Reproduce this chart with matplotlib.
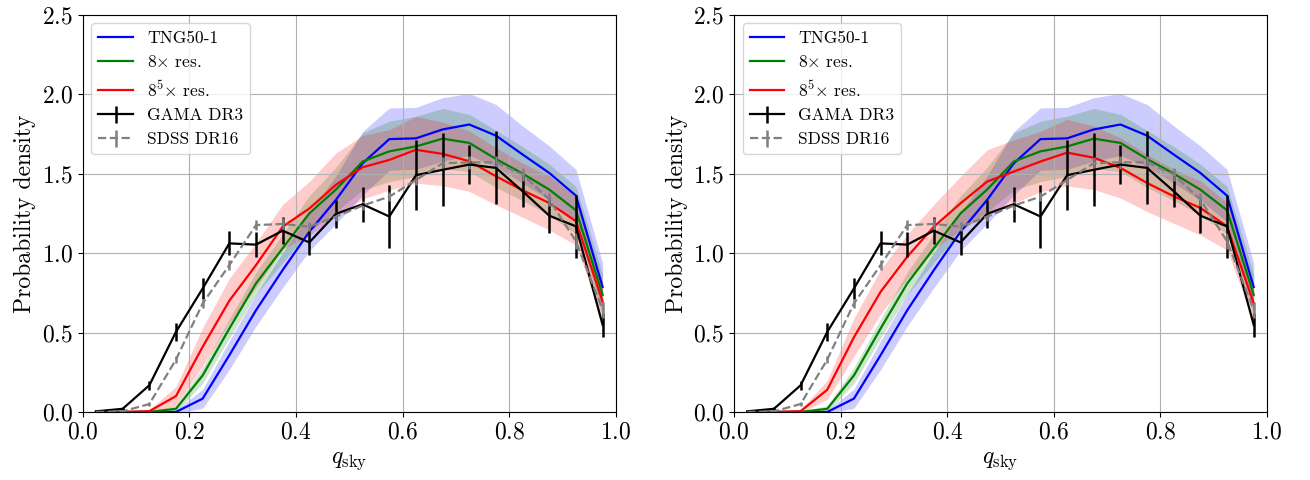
import numpy as np
import matplotlib
matplotlib.use("Agg")
import matplotlib.pyplot as plt

plt.rcParams['font.family'] = 'serif'
plt.rcParams['font.serif'] = ['cmr10']
plt.rcParams['mathtext.fontset'] = 'cm'
plt.rcParams['axes.formatter.use_mathtext'] = True

# bin centres of q_sky
q = np.arange(0.025, 1.0, 0.05)

# simulations (mean and half width of shaded band)
tng = [0.0, 0.0, 0.0, 0.0, 0.084, 0.357, 0.64, 0.893, 1.134, 1.335,
       1.565, 1.717, 1.722, 1.778, 1.809, 1.739, 1.62, 1.504, 1.361, 0.786]
tng_err = [0.005, 0.005, 0.005, 0.01, 0.06, 0.09, 0.1, 0.11, 0.12, 0.15,
           0.2, 0.196, 0.195, 0.2, 0.195, 0.196, 0.18, 0.17, 0.165, 0.15]
res8 = [0.0, 0.0, 0.0, 0.02, 0.23, 0.525, 0.809, 1.03, 1.25, 1.40,
        1.576, 1.64, 1.671, 1.72, 1.693, 1.592, 1.50, 1.399, 1.269, 0.737]
res8_err = [0.005, 0.005, 0.005, 0.02, 0.05, 0.06, 0.07, 0.09, 0.11, 0.14,
            0.18, 0.19, 0.19, 0.19, 0.18, 0.18, 0.17, 0.16, 0.15, 0.13]
res85_left = [0.0, 0.0, 0.005, 0.1, 0.41, 0.70, 0.924, 1.166, 1.28, 1.43,
              1.54, 1.586, 1.65, 1.624, 1.578, 1.483, 1.395, 1.315, 1.20, 0.695]
res85_right = [0.0, 0.0, 0.005, 0.14, 0.47, 0.756, 0.977, 1.166, 1.313, 1.45,
               1.513, 1.576, 1.632, 1.60, 1.536, 1.441, 1.357, 1.284, 1.168, 0.685]
res85_err = [0.01, 0.01, 0.01, 0.06, 0.12, 0.14, 0.14, 0.14, 0.17, 0.2,
             0.2, 0.19, 0.21, 0.2, 0.19, 0.18, 0.17, 0.17, 0.15, 0.12]

# observations
gama = [0.004, 0.02, 0.168, 0.504, 0.777, 1.061, 1.053, 1.141, 1.067, 1.247,
        1.307, 1.23, 1.49, 1.524, 1.557, 1.536, 1.389, 1.235, 1.168, 0.548]
gama_err = [0.005, 0.01, 0.03, 0.055, 0.065, 0.075, 0.08, 0.085, 0.08, 0.09,
            0.11, 0.2, 0.22, 0.23, 0.125, 0.23, 0.1, 0.11, 0.2, 0.075]
sdss = [0.0, 0.004, 0.05, 0.33, 0.683, 0.924, 1.176, 1.183, 1.166, 1.229,
        1.299, 1.355, 1.46, 1.565, 1.571, 1.571, 1.494, 1.336, 1.074, 0.643]
sdss_err = [0.003, 0.003, 0.01, 0.02, 0.03, 0.03, 0.03, 0.04, 0.03, 0.03,
            0.03, 0.03, 0.03, 0.04, 0.04, 0.04, 0.04, 0.04, 0.05, 0.05]


def panel(ax, res85):
    for y, e, c, lab in [(tng, tng_err, 'blue', 'TNG50-1'),
                         (res8, res8_err, 'green', r'$8{\times}$ res.'),
                         (res85, res85_err, 'red', r'$8^5{\times}$ res.')]:
        y = np.array(y)
        e = np.array(e)
        ax.fill_between(q, y - e, y + e, color=c, alpha=0.2, lw=0)
        ax.plot(q, y, color=c, lw=1.6, label=lab)
    ax.errorbar(q, gama, yerr=gama_err, color='k', lw=1.6, elinewidth=1.8,
                label='GAMA DR3')
    ax.errorbar(q, sdss, yerr=sdss_err, color='gray', ls='--', lw=1.6,
                elinewidth=1.8, label='SDSS DR16')
    ax.set_xlim(0, 1)
    ax.set_ylim(0, 2.5)
    ax.set_xticks(np.arange(0, 1.01, 0.2))
    ax.set_yticks(np.arange(0, 2.51, 0.5))
    ax.grid(True)
    ax.tick_params(labelsize=17)
    ax.set_xlabel(r'$q_{\rm sky}$', fontsize=17)
    ax.set_ylabel('Probability density', fontsize=17)
    ax.legend(loc='upper left', fontsize=12.5)


fig = plt.figure(figsize=(13.1, 4.8), dpi=100)
ax1 = fig.add_axes([0.0631, 0.1417, 0.4071, 0.8277])
ax2 = fig.add_axes([0.5603, 0.1417, 0.4069, 0.8277])
panel(ax1, res85_left)
panel(ax2, res85_right)
fig.savefig('out.png', dpi=100)
